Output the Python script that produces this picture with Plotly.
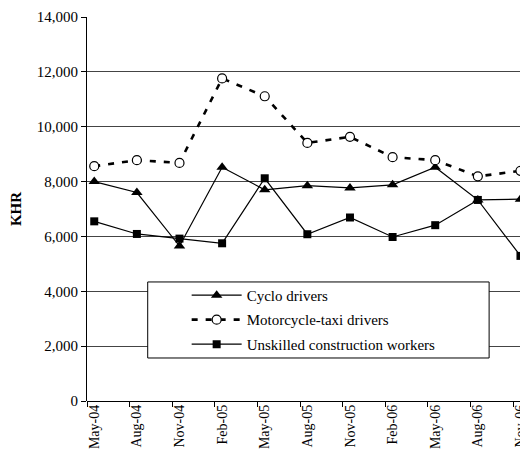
import plotly.graph_objects as go

# categories and series
months = ['May-04', 'Aug-04', 'Nov-04', 'Feb-05', 'May-05', 'Aug-05',
          'Nov-05', 'Feb-06', 'May-06', 'Aug-06', 'Nov-06']
cyclo = [8000, 7600, 5650, 8520, 7700, 7850, 7770, 7880, 8520, 7330, 7360]
moto = [8560, 8780, 8680, 11760, 11110, 9410, 9630, 8890, 8780, 8190, 8390]
unskilled = [6550, 6090, 5920, 5750, 8120, 6080, 6690, 5980, 6410, 7330, 5290]
y_ticks = [0, 2000, 4000, 6000, 8000, 10000, 12000, 14000]

FONT = "Liberation Serif"
x = list(range(len(months)))

fig = go.Figure()

fig.add_trace(go.Scatter(
    x=x, y=cyclo, name='Cyclo drivers', mode='lines+markers',
    line=dict(color='black', width=1.2), cliponaxis=False,
    marker=dict(symbol='triangle-up', size=10, color='black'),
    legendgroup='a'))
fig.add_trace(go.Scatter(
    x=x, y=moto, name='Motorcycle-taxi drivers', mode='lines+markers',
    line=dict(color='black', width=2.6, dash='6px,8px'), cliponaxis=False,
    marker=dict(symbol='circle', size=9, color='white',
                line=dict(color='black', width=1.2)),
    legendgroup='b'))
fig.add_trace(go.Scatter(
    x=x, y=unskilled, name='Unskilled construction workers', mode='lines+markers',
    line=dict(color='black', width=1.2), cliponaxis=False,
    marker=dict(symbol='square', size=8, color='black'),
    legendgroup='c'))

# legend frame (wider than the entries, like the original)
fig.add_shape(type='rect', xref='paper', yref='paper',
              x0=0.1383, x1=0.916, y0=0.112, y1=0.31,
              line=dict(color='black', width=1), fillcolor='white', layer='above')

# the page adds an 8px body margin, so the figure is 8px smaller each way
fig.update_layout(
    width=520, height=447,
    margin=dict(l=79, r=0, t=9, b=54),
    paper_bgcolor='white', plot_bgcolor='white',
    font=dict(family=FONT, size=15, color='black'),
    showlegend=True,
    legend=dict(x=0.227, y=0.318, xanchor='left', yanchor='top',
                bgcolor='rgba(0,0,0,0)', borderwidth=0, itemwidth=50,
                tracegroupgap=2, font=dict(family=FONT, size=15)),
    xaxis=dict(
        range=[-0.17, 10.13], tickmode='array', tickvals=x, ticktext=months,
        tickangle=-90, ticks='', showgrid=False, zeroline=False,
        showline=False, tickfont=dict(family=FONT, size=14),
        ticklabeloverflow='allow',
        minor=dict(tickmode='array', tickvals=[v - 0.17 for v in x],
                   ticks='outside', ticklen=5, tickcolor='black', showgrid=False)),
    yaxis=dict(
        range=[0, 14000], tickmode='array', tickvals=y_ticks,
        tickformat=',', ticks='outside', ticklen=5, tickcolor='black',
        showline=True, linecolor='black', linewidth=1,
        showgrid=True, gridcolor='#444', gridwidth=1, zeroline=True,
        zerolinecolor='black', zerolinewidth=1, tickfont=dict(family=FONT, size=15),
        title=dict(text='<b>KHR</b>', font=dict(family=FONT, size=15), standoff=12)),
)

fig.write_html("out.html")
